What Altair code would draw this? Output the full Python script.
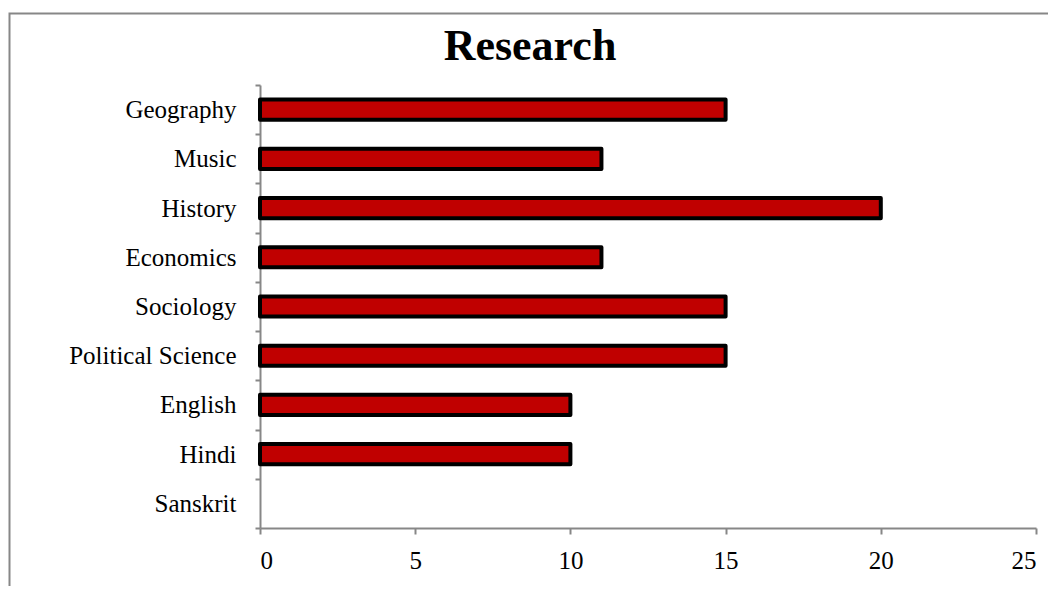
import altair as alt
import pandas as pd

categories = ["Geography", "Music", "History", "Economics", "Sociology",
              "Political Science", "English", "Hindi", "Sanskrit"]
values = [15, 11, 20, 11, 15, 15, 10, 10, 0]
x_ticks = [0, 5, 10, 15, 20, 25]
title_text = "Research"

df = pd.DataFrame({"subject": categories, "value": values})
FONT = "Liberation Serif"
GRAY = "#878787"

bars = alt.Chart(df).mark_bar(
    height=alt.RelativeBandSize(0.41),
    fill="#C00000",
    strokeWidth=4,
    strokeJoin="round",
).encode(
    x=alt.X("value:Q",
            scale=alt.Scale(domain=[0, 25], nice=False, zero=True),
            axis=alt.Axis(values=x_ticks, title=None, grid=False,
                          tickSize=6, labelPadding=14, format="d")),
    y=alt.Y("subject:N", sort=categories,
            scale=alt.Scale(paddingInner=0, paddingOuter=0),
            axis=alt.Axis(title=None, tickBand="extent", tickSize=5,
                          labelPadding=19)),
    stroke=alt.condition(alt.datum.value > 0, alt.value("black"), alt.value("transparent")),
)

border = alt.Chart(pd.DataFrame({"a": [0]})).mark_rect(
    fill="transparent", stroke=GRAY, strokeWidth=2, clip=False
).encode(
    x=alt.value(-250.5), x2=alt.value(900),
    y=alt.value(-71.5), y2=alt.value(600),
)

chart = alt.layer(border, bars).properties(
    width=776, height=443,
    autosize=alt.AutoSizeParams(type="none"),
    padding={"left": 252, "top": 77, "right": 12, "bottom": 58},
    title=alt.TitleParams(title_text, font=FONT, fontSize=44, fontWeight="bold",
                          color="black", anchor="middle", dx=-118, dy=56, offset=0),
).configure_view(stroke=None).configure_axis(
    labelFont=FONT, labelFontSize=25, labelColor="black",
    domainColor=GRAY, tickColor=GRAY, domainWidth=2, tickWidth=2,
)

chart.save("out.html", embed_options={"renderer": "svg", "actions": False})
